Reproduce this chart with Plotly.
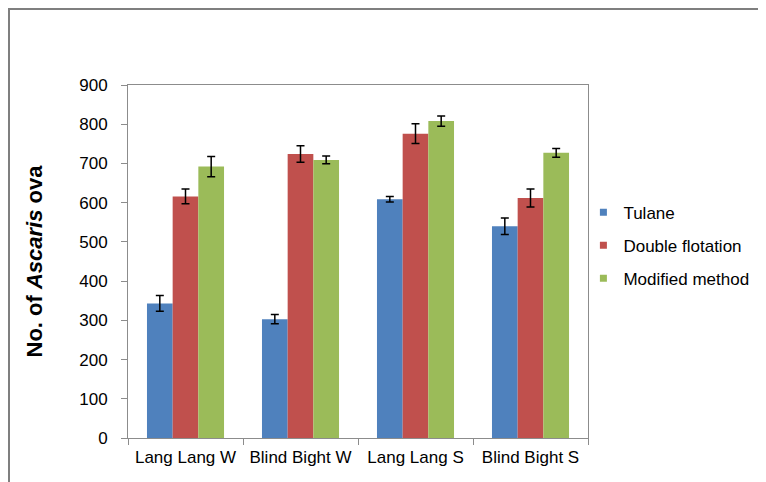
import plotly.graph_objects as go

categories = ["Lang Lang W", "Blind Bight W", "Lang Lang S", "Blind Bight S"]
series_names = ["Tulane", "Double flotation", "Modified method"]
tulane = [343, 303, 609, 540]
tulane_err = [20, 12, 7, 21]
double_flot = [616, 724, 776, 612]
double_err = [19, 21, 25, 23]
modified = [692, 709, 808, 727]
modified_err = [26, 10, 13, 11]
colors = ["#4F81BD", "#C0504D", "#9BBB59"]
y_ticks = [0, 100, 200, 300, 400, 500, 600, 700, 800, 900]

values = [tulane, double_flot, modified]
errors = [tulane_err, double_err, modified_err]

fig = go.Figure()
for name, vals, errs, col in zip(series_names, values, errors, colors):
    fig.add_trace(go.Bar(
        x=categories, y=vals, name=name, showlegend=False,
        marker=dict(color=col, line=dict(width=0)),
        error_y=dict(type="data", array=errs, visible=True,
                     color="black", thickness=1.5, width=4),
    ))
# legend entries with small square keys
for name, col in zip(series_names, colors):
    fig.add_trace(go.Scatter(
        x=[None], y=[None], mode="markers", name=name, legendgroup=name,
        marker=dict(symbol="square", size=7, color=col),
    ))

axis_col = "#8C8C8C"
fig.update_layout(
    width=758, height=474,
    margin=dict(l=120, r=178, t=77, b=44),
    paper_bgcolor="white", plot_bgcolor="white",
    barmode="group", bargap=0.33, bargroupgap=0,
    font=dict(family="Liberation Sans, Arial, sans-serif", size=17, color="black"),
    showlegend=True,
    legend=dict(x=0.99, y=0.545, xanchor="left", yanchor="middle",
                font=dict(size=17), itemwidth=30, tracegroupgap=8,
                traceorder="grouped", bgcolor="rgba(0,0,0,0)"),
    xaxis=dict(
        showline=True, linecolor=axis_col, linewidth=1, mirror=True,
        ticks="outside", tickson="boundaries", ticklen=6, tickcolor=axis_col,
        showgrid=False, ticklabelstandoff=4,
        tickfont=dict(size=17),
    ),
    yaxis=dict(
        range=[0, 900], tickvals=y_ticks,
        showline=True, linecolor=axis_col, linewidth=1, mirror=True,
        ticks="outside", ticklen=6, tickcolor=axis_col,
        showgrid=False, zeroline=False, ticklabelstandoff=10,
        tickfont=dict(size=17),
        title=dict(text="<b>No. of <i>Ascaris</i> ova</b>", font=dict(size=22), standoff=30),
    ),
    shapes=[dict(type="rect", xref="paper", yref="paper",
                 x0=-0.2587, x1=1.6, y0=-0.4, y1=1.2153,
                 line=dict(color="#7F7F7F", width=2), fillcolor="rgba(0,0,0,0)", layer="below")],
)

fig.write_html("out.html")
